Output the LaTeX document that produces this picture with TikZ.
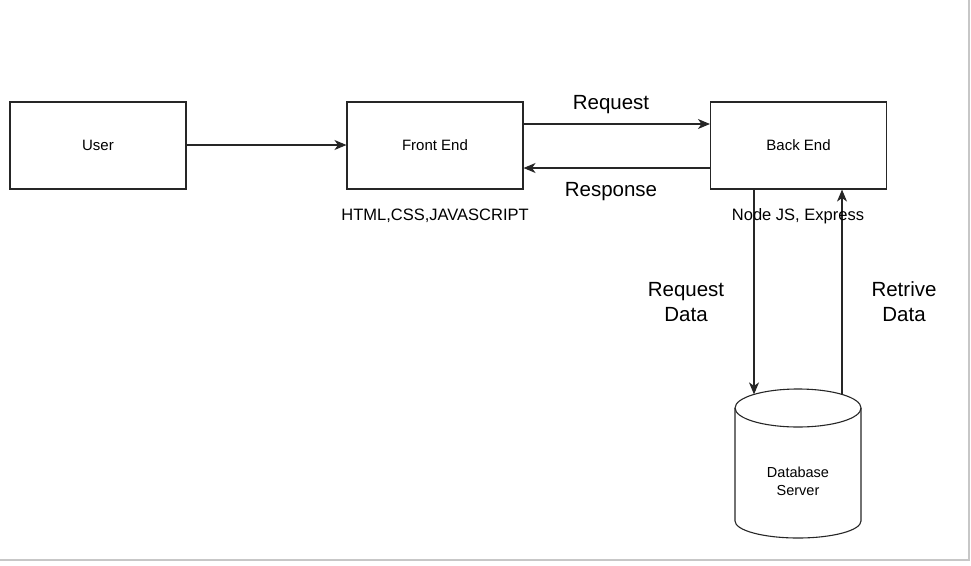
\documentclass[tikz,border=0pt]{standalone}
\usepackage{fontspec}
\setmainfont{Liberation Sans}
\usetikzlibrary{arrows.meta,calc}
\begin{document}
\begin{tikzpicture}[x=1pt,y=-1pt,
  box/.style={draw=black!85, line width=1.1pt, minimum width=176pt, minimum height=87pt, inner sep=0pt, font=\fontsize{15}{17}\selectfont},
  arr/.style={draw=black!85, line width=1.1pt, -{Stealth[length=12pt,width=10pt,inset=3.5pt]}},
  lbl/.style={font=\fontsize{20.5}{25}\selectfont, align=center, inner sep=0pt},
  sub/.style={font=\fontsize{16.5}{18}\selectfont, inner sep=0pt},
  dbtext/.style={font=\fontsize{14.5}{18}\selectfont, align=center, inner sep=0pt}]
\useasboundingbox (0,0) rectangle (971,565);
\draw[black!22, line width=1.3pt] (0,560) -- (969,560) -- (969,0);
% boxes
\node[box] (user) at (98,145.5) {User};
\node[box] (fe) at (435,145.5) {Front End};
\node[box] (be) at (798.5,145.5) {Back End};
% database cylinder
\draw[black!85, line width=1.1pt] (735,408) -- (735,521) arc[start angle=180, end angle=0, x radius=63, y radius=17] -- (861,408);
\draw[black!85, line width=1.1pt] (798,408) ellipse [x radius=63, y radius=19];
\node[dbtext] (db) at (798,481) {Database\\Server};
\coordinate (dbA) at (754,394.4);
\coordinate (dbB) at (842,394.4);
% connectors
\draw[arr] ([yshift=0.5pt]user.east) -- ([yshift=0.5pt]fe.west);
\draw[arr] ([yshift=21.5pt]fe.east) -- ([yshift=21.5pt]be.west);
\draw[arr] ([yshift=-22.5pt]be.west) -- ([yshift=-22.5pt]fe.east);
\draw[arr] ([xshift=-44.5pt]be.south) -- (dbA);
\draw[arr] (dbB) -- ([xshift=43.5pt]be.south);
% labels
\node[lbl] (lreq) at (611,105) {Request};
\node[lbl] (lresp) at (611,192) {Response};
\node[sub] (lfe) at (435,216) {HTML,CSS,JAVASCRIPT};
\node[sub] (lbe) at (798,216) {Node JS, Express};
\node[lbl] (lrd) at (686,302) {Request\\Data};
\node[lbl] (lrt) at (904,302) {Retrive\\Data};
\end{tikzpicture}
\end{document}
